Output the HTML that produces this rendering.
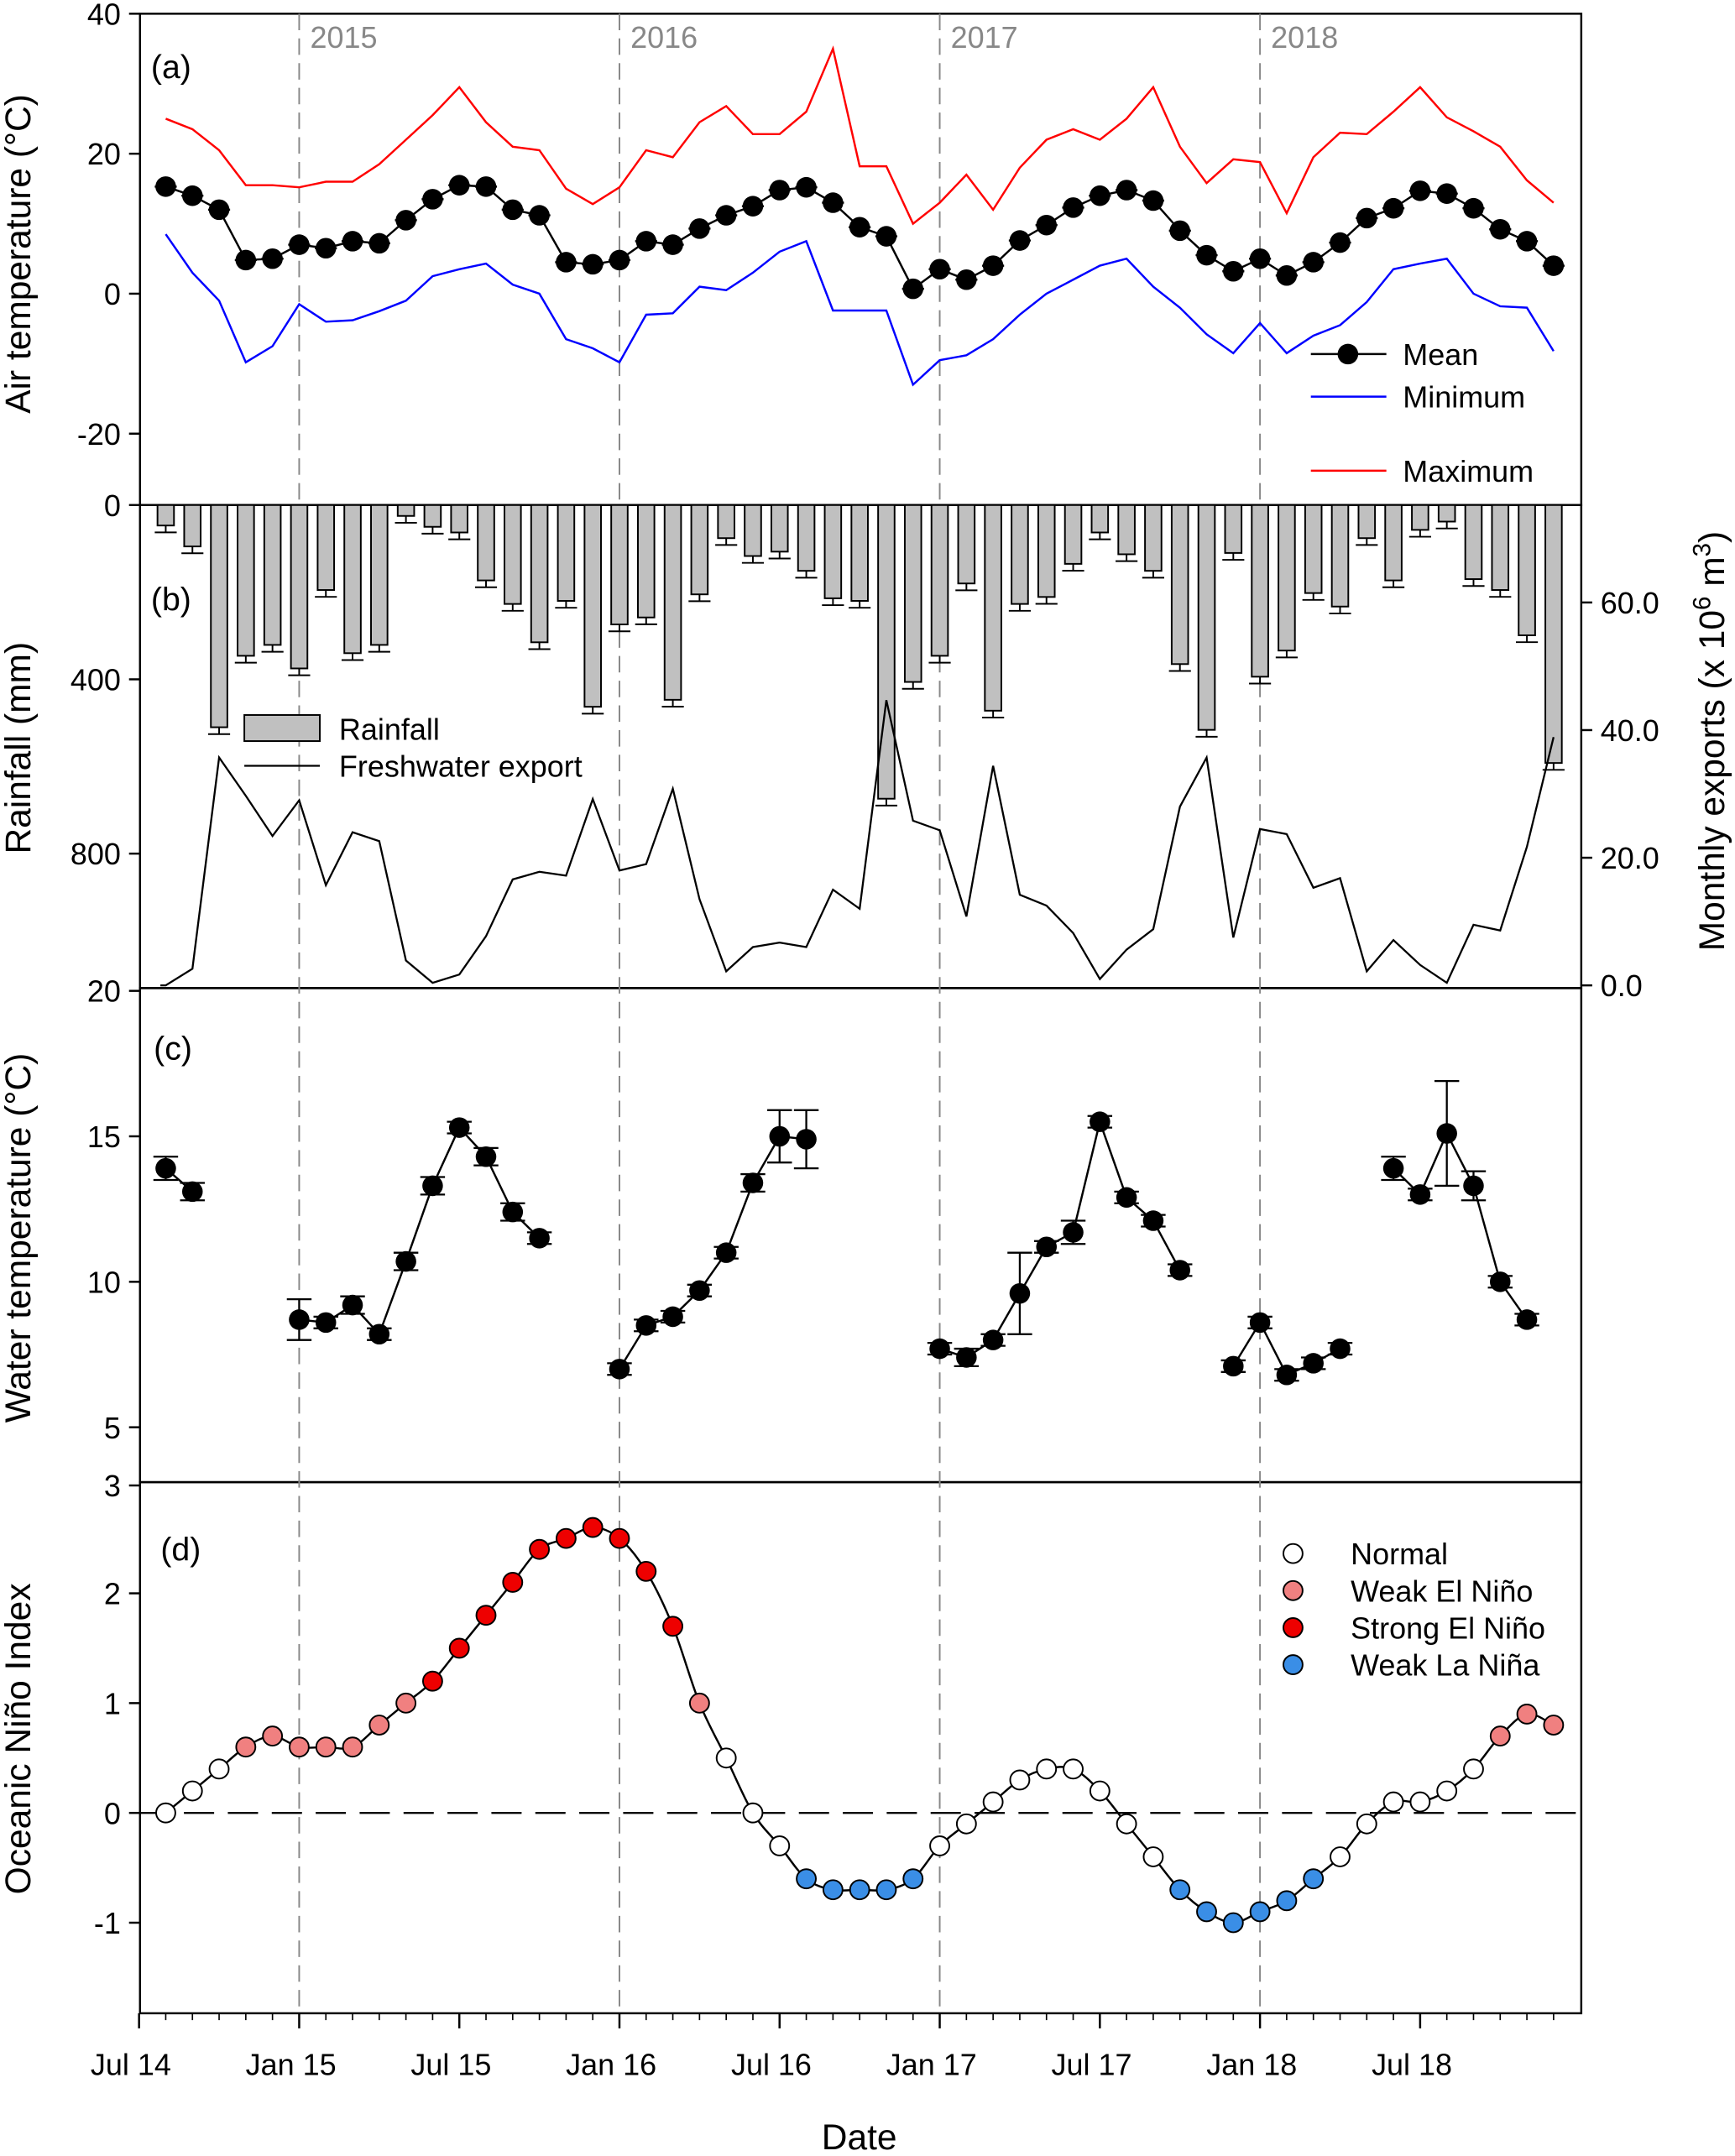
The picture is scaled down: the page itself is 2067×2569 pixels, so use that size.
<!DOCTYPE html>
<html><head><meta charset="utf-8"><style>
html,body{margin:0;padding:0;background:#fff}
svg{display:block}
text{font-family:"Liberation Sans",Arial,sans-serif}
</style></head><body>
<svg id="chart" width="2067" height="2569" viewBox="0 0 1264 1571" preserveAspectRatio="none" xmlns="http://www.w3.org/2000/svg"></svg>
<script>
// ---------- data (monthly, Aug 2014 .. Dec 2018) ----------
const months = ["Aug14","Sep14","Oct14","Nov14","Dec14","Jan15","Feb15","Mar15","Apr15","May15","Jun15","Jul15","Aug15","Sep15","Oct15","Nov15","Dec15","Jan16","Feb16","Mar16","Apr16","May16","Jun16","Jul16","Aug16","Sep16","Oct16","Nov16","Dec16","Jan17","Feb17","Mar17","Apr17","May17","Jun17","Jul17","Aug17","Sep17","Oct17","Nov17","Dec17","Jan18","Feb18","Mar18","Apr18","May18","Jun18","Jul18","Aug18","Sep18","Oct18","Nov18","Dec18"];
const airMean = [15.3,14,12,4.8,5,7,6.5,7.5,7.2,10.5,13.5,15.5,15.3,12,11.2,4.5,4.2,4.8,7.5,7,9.3,11.2,12.5,14.8,15.2,13,9.5,8.2,0.7,3.5,2,4,7.6,9.8,12.3,14,14.8,13.3,9,5.5,3.2,5,2.6,4.5,7.3,10.8,12.2,14.7,14.3,12.2,9.2,7.5,4];
const airMax = [25,23.5,20.5,15.5,15.5,15.2,16,16,18.5,22,25.5,29.5,24.5,21,20.5,15,12.8,15.2,20.5,19.5,24.5,26.8,22.8,22.8,26,35,18.2,18.2,10,13,17,12,18,22,23.5,22,25,29.5,21,15.8,19.2,18.8,11.5,19.5,23,22.8,26,29.5,25.2,23.2,21,16.2,13];
const airMin = [8.5,3,-1,-9.8,-7.5,-1.5,-4,-3.8,-2.5,-1,2.5,3.5,4.3,1.3,0,-6.5,-7.8,-9.8,-3,-2.8,1,0.5,3,6,7.5,-2.4,-2.4,-2.4,-13,-9.5,-8.8,-6.5,-3,0,2,4,5,1,-2,-5.8,-8.5,-4.2,-8.5,-6,-4.5,-1.2,3.5,4.3,5,0,-1.8,-2,-8.2];
const rainfall = [47,95,510,346,321,375,195,340,321,25,50,63,173,227,315,220,463,274,258,447,205,76,117,107,151,214,220,674,406,346,180,472,227,211,135,63,113,151,365,516,110,394,334,202,233,76,173,57,38,170,195,299,592];
const exportVol = [0,2.6,35.7,29.7,23.4,29,15.7,24,22.6,3.9,0.4,1.7,7.7,16.6,17.8,17.2,29.2,18,19,30.8,13.5,2.2,6,6.7,6,15,12,44.7,25.8,24.3,10.8,34.4,14.2,12.5,8.2,1,5.6,8.8,28,35.7,7.5,24.5,23.7,15.3,16.8,2.2,7.1,3.2,0.4,9.5,8.6,21.7,38.9];
const waterT = [13.9,13.1,null,null,null,8.7,8.6,9.2,8.2,10.7,13.3,15.3,14.3,12.4,11.5,null,null,7.0,8.5,8.8,9.7,11.0,13.4,15.0,14.9,null,null,null,null,7.7,7.4,8.0,9.6,11.2,11.7,15.5,12.9,12.1,10.4,null,7.1,8.6,6.8,7.2,7.7,null,13.9,13.0,15.1,13.3,10.0,8.7,null];
const waterErr = [0.4,0.3,0,0,0,0.7,0.2,0.3,0.2,0.3,0.3,0.2,0.3,0.3,0.2,0,0,0.2,0.2,0.2,0.2,0.2,0.3,0.9,1.0,0,0,0,0,0.2,0.3,0.2,1.4,0.2,0.4,0.2,0.2,0.2,0.2,0,0.2,0.2,0.2,0.2,0.2,0,0.4,0.2,1.8,0.5,0.2,0.2,0];
const oni = [0,0.2,0.4,0.6,0.7,0.6,0.6,0.6,0.8,1.0,1.2,1.5,1.8,2.1,2.4,2.5,2.6,2.5,2.2,1.7,1.0,0.5,0.0,-0.3,-0.6,-0.7,-0.7,-0.7,-0.6,-0.3,-0.1,0.1,0.3,0.4,0.4,0.2,-0.1,-0.4,-0.7,-0.9,-1.0,-0.9,-0.8,-0.6,-0.4,-0.1,0.1,0.1,0.2,0.4,0.7,0.9,0.8];
const oniClass = ["N","N","N","W","W","W","W","W","W","W","S","S","S","S","S","S","S","S","S","S","W","N","N","N","L","L","L","L","L","N","N","N","N","N","N","N","N","N","L","L","L","L","L","L","N","N","N","N","N","N","W","W","W"];
const xTickLabels = ["Jul 14","Jan 15","Jul 15","Jan 16","Jul 16","Jan 17","Jul 17","Jan 18","Jul 18"];
const yearLabels = ["2015","2016","2017","2018"];
const airTicks = [40,20,0,-20];
const rainTicks = [0,400,800];
const exportTicks = [0,20,40,60];
const waterTicks = [20,15,10,5,3];
const oniTicks = [3,2,1,0,-1];

// ---------- scales ----------
const L=102, R=1152;
const X = m => 101.3 + 19.444*m;
const xi = i => X(i+1);
const yA = v => 214 - 5.1*v;
const yB = v => 368 + 0.3175*v;
const yE = v => 718 - 4.65*v;
const yC = v => 722 + (20-v)*21.2;
const yD = v => 1321 - 80*v;

const svg=document.getElementById('chart');
const NS='http://www.w3.org/2000/svg';
function mk(tag,attrs,parent){const e=document.createElementNS(NS,tag);for(const k in attrs)e.setAttribute(k,attrs[k]);(parent||svg).appendChild(e);return e;}
function txt(s,x,y,size,anchor,fill,parent){const t=mk('text',{x:x,y:y,'font-size':size,'text-anchor':anchor||'start',fill:fill||'#000'},parent);t.textContent=s;return t;}

const panels=[["panel-a-frame",10,368],["panel-b-frame",368,720],["panel-c-frame",720,1080],["panel-d-frame",1080,1467]];
panels.forEach(p=>{const r=mk('rect',{x:L,y:p[1],width:R-L,height:p[2]-p[1],fill:'none',stroke:'#000','stroke-width':1.5});

});

yearLabels.forEach((s,k)=>{const x=X(6+12*k);
const l=mk('line',{x1:x,y1:10,x2:x,y2:1467,stroke:'#888','stroke-width':1.2,'stroke-dasharray':'12,6'});


const t=txt(s,x+8,35,22,'start','#888');

});

function leftTicks(vals,scale,name){vals.forEach(v=>{const y=scale(v);mk('line',{x1:L-8,y1:y,x2:L,y2:y,stroke:'#000','stroke-width':1.5});
const t=txt(String(v),L-14,y+8,22,'end');

});}
leftTicks(airTicks,yA,'air-temp');
leftTicks(rainTicks,yB,'rainfall');
leftTicks(waterTicks,yC,'water-temp');
leftTicks(oniTicks.filter(v=>v!==3),yD,'oni');
exportTicks.forEach(v=>{const y=yE(v);mk('line',{x1:R,y1:y,x2:R+8,y2:y,stroke:'#000','stroke-width':1.5});
const t=txt(v.toFixed(1),R+14,y+8,22,'start');

});

xTickLabels.forEach((s,k)=>{const x=X(6*k);mk('line',{x1:x,y1:1467,x2:x,y2:1478,stroke:'#000','stroke-width':1.5});
const t=txt(s,x-6,1512,22,'middle');

});
for(let m=1;m<54;m++){if(m%6)mk('line',{x1:X(m),y1:1467,x2:X(m),y2:1472,stroke:'#000','stroke-width':1});}

function vtitle(s,x,y,name){const t=mk('text',{x:0,y:0,'font-size':26,'text-anchor':'middle',transform:`translate(${x},${y}) rotate(-90)`});t.textContent=s;

return t;}
vtitle('Air temperature (°C)',22,185,'air-temp-axis-title');
vtitle('Rainfall (mm)',22,545,'rainfall-axis-title');
vtitle('Water temperature (°C)',22,902,'water-temp-axis-title');
vtitle('Oceanic Niño Index',22,1267,'oni-axis-title');
{const t=mk('text',{x:0,y:0,'font-size':26,'text-anchor':'middle',transform:'translate(1256,540) rotate(-90)'});
t.innerHTML='Monthly exports (x 10<tspan dy="-10" font-size="18">6</tspan><tspan dy="10"> m</tspan><tspan dy="-10" font-size="18">3</tspan><tspan dy="10">)</tspan>';

}
{const t=txt('Date',626,1566,26,'middle');

}

[["(a)",110,57],["(b)",110,445],["(c)",112,772],["(d)",117,1137]].forEach(p=>{const t=txt(p[0],p[1],p[2],24);

});

function poly(vals,sx,sy,color,name,w){const pts=vals.map((v,i)=>sx(i)+','+sy(v)).join(' ');
const p=mk('polyline',{points:pts,fill:'none',stroke:color,'stroke-width':w||1.5});

return p;}

// ---------- panel a ----------
poly(airMax,xi,yA,'#ff0000','air-max-line');
poly(airMin,xi,yA,'#0000ff','air-min-line');
poly(airMean,xi,yA,'#000','air-mean-line');
airMean.forEach((v,i)=>{const x=xi(i),y=yA(v);
mk('line',{x1:x-8,y1:y,x2:x+8,y2:y,stroke:'#000','stroke-width':1.5});
const c=mk('circle',{cx:x,cy:y,r:7.5,fill:'#000'});

});
mk('line',{x1:955,y1:258,x2:1010,y2:258,stroke:'#000','stroke-width':1.5});
mk('circle',{cx:982,cy:258,r:7.5,fill:'#000'});
mk('line',{x1:955,y1:289,x2:1010,y2:289,stroke:'#0000ff','stroke-width':1.5});
mk('line',{x1:955,y1:343,x2:1010,y2:343,stroke:'#ff0000','stroke-width':1.5});
[["Mean",266],["Minimum",297],["Maximum",351]].forEach(p=>{const t=txt(p[0],1022,p[1],22);

});

// ---------- panel b ----------
rainfall.forEach((v,i)=>{const x=xi(i);
const r=mk('rect',{x:x-6,y:368,width:12,height:yB(v)-368,fill:'#c0c0c0',stroke:'#000','stroke-width':1.2});


const e=yB(v)+5;mk('line',{x1:x,y1:yB(v),x2:x,y2:e,stroke:'#000','stroke-width':1.2});
mk('line',{x1:x-8,y1:e,x2:x+8,y2:e,stroke:'#000','stroke-width':1.2});});
{const pts=exportVol.map((v,i)=>xi(i)+','+yE(v));pts.unshift(X(0.8)+','+yE(0));
const p=mk('polyline',{points:pts.join(' '),fill:'none',stroke:'#000','stroke-width':1.4});

}
mk('rect',{x:178,y:521,width:55,height:19,fill:'#c0c0c0',stroke:'#000','stroke-width':1.2});
mk('line',{x1:178,y1:558,x2:233,y2:558,stroke:'#000','stroke-width':1.4});
{const t=txt('Rainfall',247,539,22);
const t2=txt('Freshwater export',247,566,22);}

// ---------- panel c ----------
for(let i=1;i<waterT.length;i++){if(waterT[i]!=null&&waterT[i-1]!=null)mk('line',{x1:xi(i-1),y1:yC(waterT[i-1]),x2:xi(i),y2:yC(waterT[i]),stroke:'#000','stroke-width':1.5});}
waterT.forEach((v,i)=>{if(v==null)return;const x=xi(i),y=yC(v),e=waterErr[i];
if(e>0){mk('line',{x1:x,y1:yC(v+e),x2:x,y2:yC(v-e),stroke:'#000','stroke-width':1.4});
[v+e,v-e].forEach(z=>mk('line',{x1:x-9,y1:yC(z),x2:x+9,y2:yC(z),stroke:'#000','stroke-width':1.4}));}
const c=mk('circle',{cx:x,cy:y,r:7.5,fill:'#000'});

});

// ---------- panel d ----------
{const z=mk('line',{x1:L,y1:yD(0),x2:R,y2:yD(0),stroke:'#000','stroke-width':1.5,'stroke-dasharray':'22,10'});

let d='M'+xi(0)+','+yD(oni[0]);
for(let i=0;i<oni.length-1;i++){const p0=[xi(Math.max(i-1,0)),yD(oni[Math.max(i-1,0)])],p1=[xi(i),yD(oni[i])],p2=[xi(i+1),yD(oni[i+1])],p3=[xi(Math.min(i+2,oni.length-1)),yD(oni[Math.min(i+2,oni.length-1)])];
d+=` C${p1[0]+(p2[0]-p0[0])/6},${p1[1]+(p2[1]-p0[1])/6} ${p2[0]-(p3[0]-p1[0])/6},${p2[1]-(p3[1]-p1[1])/6} ${p2[0]},${p2[1]}`;}
const p=mk('path',{d:d,fill:'none',stroke:'#000','stroke-width':1.5});
}
const cls={N:'#ffffff',W:'#f08080',S:'#ee0000',L:'#3a8ee6'};
oni.forEach((v,i)=>{const c=mk('circle',{cx:xi(i),cy:yD(v),r:7,fill:cls[oniClass[i]],stroke:'#000','stroke-width':1.2});

});
[["N","Normal",1132],["W","Weak El Niño",1159],["S","Strong El Niño",1186],["L","Weak La Niña",1213]].forEach(p=>{
mk('circle',{cx:942,cy:p[2],r:7,fill:cls[p[0]],stroke:'#000','stroke-width':1.2});
const t=txt(p[1],984,p[2]+8,22);

});
</script>
</body></html>
